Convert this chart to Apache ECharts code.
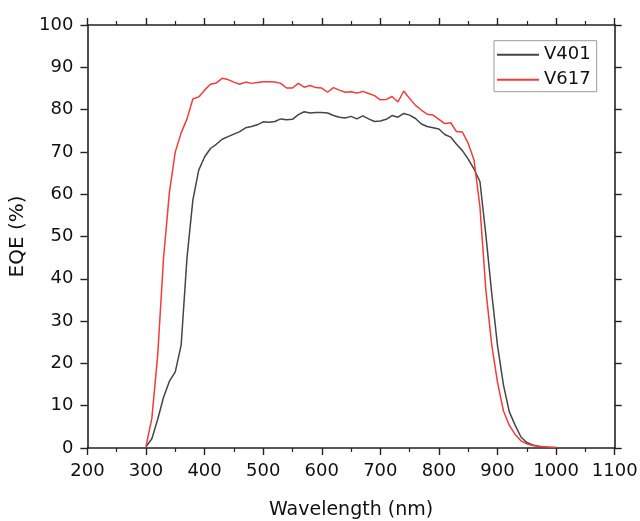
<!DOCTYPE html>
<html>
<head>
<meta charset="utf-8">
<script src="https://cdn.jsdelivr.net/npm/echarts@6/dist/echarts.min.js"></script>
<style>
html,body{margin:0;padding:0;background:#fff;}
#chart{width:640px;height:521px;}
</style>
</head>
<body>
<div id="chart"></div>
<script>
const wavelengths = [300,310,320,330,340,350,360,370,380,390,400,410,420,430,440,450,460,470,480,490,500,510,520,530,540,550,560,570,580,590,600,610,620,630,640,650,660,670,680,690,700,710,720,730,740,750,760,770,780,790,800,810,820,830,840,850,860,870,880,890,900,910,920,930,940,950,960,970,980,990,1000];
const v401 = [0.3,2.2,6.8,12,15.8,18,24.3,45,58.6,65.7,68.8,70.8,71.8,73,73.6,74.2,74.8,75.7,76,76.4,77.1,77,77.2,77.8,77.6,77.7,78.8,79.5,79.2,79.3,79.3,79.2,78.6,78.2,78,78.4,77.8,78.5,77.8,77.2,77.3,77.7,78.6,78.2,79.1,78.7,77.9,76.6,76,75.7,75.4,74.1,73.5,71.8,70.3,68.3,65.9,63,50.5,36.7,24.2,15,8.6,5.4,2.6,1.3,0.7,0.4,0.2,0.1,0.1];
const v617 = [0.4,7,22,45,60.5,70,74.5,77.8,82.5,83,84.6,86,86.3,87.4,87.1,86.5,86,86.5,86.2,86.4,86.6,86.6,86.5,86.2,85.1,85.1,86.2,85.3,85.7,85.2,85.1,84.1,85.2,84.6,84.1,84.2,83.9,84.3,83.8,83.3,82.3,82.4,83.1,81.8,84.4,82.6,81,79.9,78.9,78.7,77.7,76.7,76.9,74.8,74.7,72,68,57,37.5,24.5,15.5,8.8,5.4,3.2,1.7,1,0.6,0.4,0.3,0.2,0.1];
const seriesNames = ['V401','V617'];
const seriesColors = ['#454545','#f23b3b'];
const xTicks = {min:200, max:1100, step:100};
const yTicks = {min:0, max:100, step:10};

const FONT = 'DejaVu Sans';
const AX = '#222';
function pairs(ys){ return wavelengths.map((w,i)=>[w, ys[i]]); }
const plain = v => String(v);

const baseX = {
  type:'value', min:xTicks.min, max:xTicks.max, interval:xTicks.step,
  axisLine:{show:true, onZero:false, lineStyle:{color:AX, width:1.6}},
  axisTick:{show:true, inside:false, length:7, lineStyle:{color:AX, width:1.4}},
  minorTick:{show:true, splitNumber:2, length:4, lineStyle:{color:AX, width:1.2}},
  splitLine:{show:false}, minorSplitLine:{show:false}
};
const baseY = {
  type:'value', min:yTicks.min, max:yTicks.max, interval:yTicks.step,
  axisLine:{show:true, onZero:false, lineStyle:{color:AX, width:1.6}},
  axisTick:{show:true, inside:false, length:7, lineStyle:{color:AX, width:1.4}},
  splitLine:{show:false}
};

const chart = echarts.init(document.getElementById('chart'));
chart.setOption({
  animation:false,
  backgroundColor:'#fff',
  grid:{left:87.4, right:25.3, top:25, bottom:73, containLabel:false, outerBoundsMode:'none'},
  legend:{
    data:seriesNames.map((n,i)=>({name:n, icon:'rect', itemStyle:{color:seriesColors[i]}})),
    orient:'vertical', left:494, top:40.7,
    itemWidth:42, itemHeight:2, itemGap:7,
    padding:[5,6,3,3],
    borderColor:'#999', borderWidth:1,
    textStyle:{fontFamily:FONT, fontSize:18, color:'#111', lineHeight:18}
  },
  xAxis:[
    Object.assign({}, baseX, {
      position:'bottom',
      axisLabel:{show:true, margin:14, fontFamily:FONT, fontSize:18, color:'#111', formatter:plain},
      name:'Wavelength (nm)', nameLocation:'middle', nameGap:53,
      nameTextStyle:{fontFamily:FONT, fontSize:19, color:'#111'}
    }),
    Object.assign({}, baseX, {position:'top', axisLabel:{show:false}})
  ],
  yAxis:[
    Object.assign({}, baseY, {
      position:'left',
      axisLabel:{show:true, margin:14, fontFamily:FONT, fontSize:18, color:'#111', formatter:plain},
      name:'EQE (%)', nameLocation:'middle', nameGap:56, nameRotate:90,
      nameTextStyle:{fontFamily:FONT, fontSize:20, color:'#111'}
    }),
    Object.assign({}, baseY, {position:'right', axisLabel:{show:false}})
  ],
  series:[
    {name:seriesNames[0], type:'line', data:pairs(v401), xAxisIndex:0, yAxisIndex:0,
     symbol:'none', lineStyle:{color:seriesColors[0], width:1.5}, itemStyle:{color:seriesColors[0]}},
    {name:seriesNames[1], type:'line', data:pairs(v617), xAxisIndex:0, yAxisIndex:0,
     symbol:'none', lineStyle:{color:seriesColors[1], width:1.5}, itemStyle:{color:seriesColors[1]}}
  ]
});
</script>
</body>
</html>
